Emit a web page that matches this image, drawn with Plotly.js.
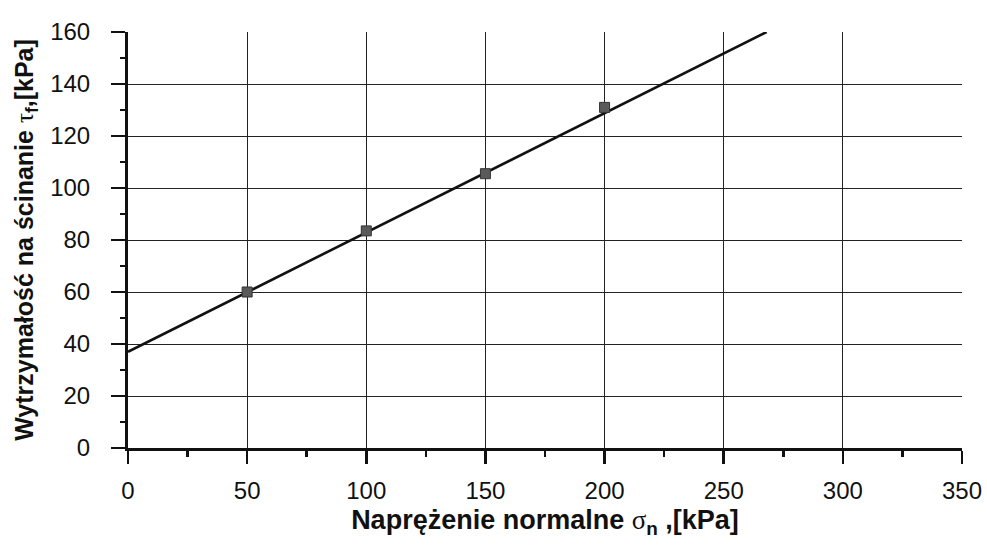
<!DOCTYPE html>
<html>
<head>
<meta charset="utf-8">
<script src="https://cdn.plot.ly/plotly-3.0.1.min.js"></script>
<style>html,body{margin:0;padding:0;background:#fff;}#chart{width:987px;height:548px;}</style>
</head>
<body>
<div id="chart"></div>
<script>
// Measured points
const sigmaN = [50, 100, 150, 200];
const tauF = [60, 83.5, 105.5, 131];
// Fitted strength envelope (end points)
const fitX = [0, 268];
const fitY = [37, 160];
const xTicks = [0, 50, 100, 150, 200, 250, 300, 350];
const yTicks = [0, 20, 40, 60, 80, 100, 120, 140, 160];

const font = 'Liberation Sans, Arial, sans-serif';

const traces = [
  {x: fitX, y: fitY, mode: 'lines', line: {color: '#111', width: 2.6}, hoverinfo: 'skip', showlegend: false},
  {x: sigmaN, y: tauF, mode: 'markers', marker: {symbol: 'square', size: 10, color: '#5a5a5a', line: {color: '#333', width: 1}}, showlegend: false}
];

const layout = {
  width: 987, height: 548,
  margin: {l: 128, r: 25, t: 32, b: 100},
  paper_bgcolor: '#fff', plot_bgcolor: '#fff',
  font: {family: font, color: '#111'},
  xaxis: {
    range: [0, 350], tickvals: xTicks, ticktext: xTicks.map(String),
    showgrid: true, gridcolor: '#222', gridwidth: 1,
    zeroline: false, showline: true, linecolor: '#111', linewidth: 3,
    ticks: 'outside', ticklen: 13, tickwidth: 2.5, tickcolor: '#111',
    minor: {dtick: 25, ticks: 'outside', ticklen: 6, tickwidth: 2.5, tickcolor: '#111', showgrid: false},
    tickfont: {size: 24, family: font, color: '#111'},
    ticklabelstandoff: 6,
    title: {text: '<b>Naprężenie normalne <span style="font-family:Liberation Serif;font-weight:normal">σ</span><sub>n</sub> ,[kPa]</b>', font: {size: 27, family: font, color: '#111'}, standoff: 8}
  },
  yaxis: {
    range: [0, 160], tickvals: yTicks, ticktext: yTicks.map(String),
    showgrid: true, gridcolor: '#222', gridwidth: 1,
    zeroline: false, showline: true, linecolor: '#111', linewidth: 3,
    ticks: 'outside', ticklen: 14, tickwidth: 2.5, tickcolor: '#111',
    minor: {dtick: 10, ticks: 'outside', ticklen: 5, tickwidth: 2.5, tickcolor: '#111', showgrid: false},
    tickfont: {size: 24, family: font, color: '#111'},
    ticklabelstandoff: 16,
    title: {text: '<b>Wytrzymałość na ścinanie <span style="font-family:Liberation Serif;font-weight:normal">τ</span><sub>f</sub>,[kPa]</b>', font: {size: 25, family: font, color: '#111'}, standoff: 10}
  }
};

Plotly.newPlot('chart', traces, layout, {displayModeBar: false, staticPlot: true});
</script>
</body>
</html>
